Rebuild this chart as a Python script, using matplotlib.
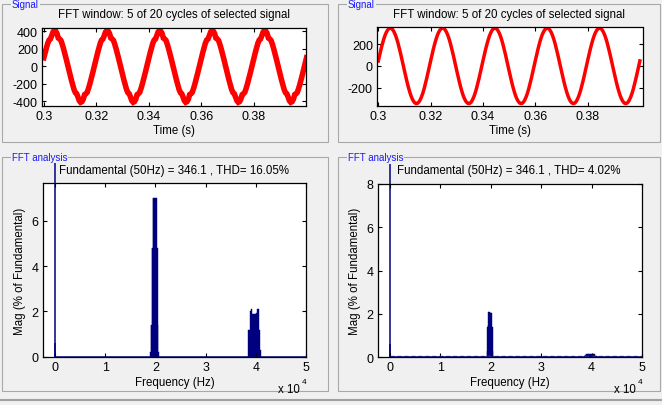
import matplotlib.pyplot as plt
import numpy as np
from matplotlib.patches import Rectangle

plt.rcParams['font.family'] = ['Liberation Sans', 'DejaVu Sans']
plt.rcParams['axes.unicode_minus'] = False

# ---- data ----
# signal window, sampled every 0.5 ms from t = 0.3 s
t_start = 0.3
t_step = 0.0005

# left: signal with high switching ripple (one row per half cycle)
sig_left = [
    98, 157, 212, 265, 300, 312, 350, 392, 410, 402, 375, 322, 312, 296, 252, 201, 145, 86, 25, -37,
    -98, -157, -212, -265, -300, -312, -350, -392, -410, -402, -375, -322, -312, -296, -252, -201, -145, -86, -25, 37,
    98, 157, 212, 265, 300, 312, 350, 392, 410, 402, 375, 322, 312, 296, 252, 201, 145, 86, 25, -37,
    -98, -157, -212, -265, -300, -312, -350, -392, -410, -402, -375, -322, -312, -296, -252, -201, -145, -86, -25, 37,
    98, 157, 212, 265, 300, 312, 350, 392, 410, 402, 375, 322, 312, 296, 252, 201, 145, 86, 25, -37,
    -98, -157, -212, -265, -300, -312, -350, -392, -410, -402, -375, -322, -312, -296, -252, -201, -145, -86, -25, 37,
    98, 157, 212, 265, 300, 312, 350, 392, 410, 402, 375, 322, 312, 296, 252, 201, 145, 86, 25, -37,
    -98, -157, -212, -265, -300, -312, -350, -392, -410, -402, -375, -322, -312, -296, -252, -201, -145, -86, -25, 37,
    98, 157, 212, 265, 300, 312, 350, 392, 410, 402, 375, 322, 312, 296, 252, 201, 145, 86, 25, -37,
    -98, -157, -212, -265, -300, -312, -350, -392, -410, -402, -375, -322, -312, -296, -252, -201, -145, -86, -25, 37,
    98,
]

# right: filtered signal, nearly sinusoidal
sig_right = [
    45, 98, 149, 196, 238, 275, 304, 326, 340, 346, 343, 332, 312, 285, 251, 211, 165, 115, 63, 9,
    -45, -98, -149, -196, -238, -275, -304, -326, -340, -346, -343, -332, -312, -285, -251, -211, -165, -115, -63, -9,
    45, 98, 149, 196, 238, 275, 304, 326, 340, 346, 343, 332, 312, 285, 251, 211, 165, 115, 63, 9,
    -45, -98, -149, -196, -238, -275, -304, -326, -340, -346, -343, -332, -312, -285, -251, -211, -165, -115, -63, -9,
    45, 98, 149, 196, 238, 275, 304, 326, 340, 346, 343, 332, 312, 285, 251, 211, 165, 115, 63, 9,
    -45, -98, -149, -196, -238, -275, -304, -326, -340, -346, -343, -332, -312, -285, -251, -211, -165, -115, -63, -9,
    45, 98, 149, 196, 238, 275, 304, 326, 340, 346, 343, 332, 312, 285, 251, 211, 165, 115, 63, 9,
    -45, -98, -149, -196, -238, -275, -304, -326, -340, -346, -343, -332, -312, -285, -251, -211, -165, -115, -63, -9,
    45, 98, 149, 196, 238, 275, 304, 326, 340, 346, 343, 332, 312, 285, 251, 211, 165, 115, 63, 9,
    -45, -98, -149, -196, -238, -275, -304, -326, -340, -346, -343, -332, -312, -285, -251, -211, -165, -115, -63, -9,
    45,
]

# FFT: DC + fundamental (% of fundamental)
fund_freq = [0, 50]
fund_mag_left = [0.6, 100]
fund_mag_right = [0.6, 100]

# left spectrum clusters (Hz, %)
left_c1_freq = [19000, 19100, 19200, 19300, 19400, 19500, 19600, 19700, 19800, 19900,
                20000, 20100, 20200, 20300, 20400, 20500, 20600]
left_c1_mag = [0.2, 1.4, 1.4, 4.8, 4.8, 7.0, 7.0, 7.0, 7.0, 7.0,
               7.0, 7.0, 7.0, 4.8, 4.8, 1.4, 0.2]
left_c2_freq = [38600, 38800, 39000, 39200, 39400, 39600, 39800, 40000, 40200, 40400,
                40600, 40800, 41000]
left_c2_mag = [1.2, 1.2, 2.0, 2.1, 1.9, 1.9, 1.9, 1.9, 1.95, 2.1, 2.1, 1.2, 0.3]

# right spectrum clusters
right_c1_freq = [19200, 19300, 19400, 19500, 19600, 19700, 19800, 19900, 20000, 20100,
                 20200, 20300, 20400]
right_c1_mag = [0.3, 1.4, 1.5, 2.1, 2.1, 2.1, 2.1, 2.05, 2.05, 2.05, 1.4, 1.4, 0.3]
right_c2_freq = [38600, 38800, 39000, 39200, 39400, 39600, 39800, 40000, 40200, 40400,
                 40600, 40800, 41000]
right_c2_mag = [0.05, 0.1, 0.15, 0.15, 0.15, 0.15, 0.15, 0.15, 0.15, 0.15, 0.15, 0.05, 0.05]
right_floor = 0.08

thd_left = 'Fundamental (50Hz) = 346.1 , THD= 16.05%'
thd_right = 'Fundamental (50Hz) = 346.1 , THD= 4.02%'
win_title = 'FFT window: 5 of 20 cycles of selected signal'

# ---- layout helpers (pixels of the 662x406 screenshot) ----
W, H = 662, 406
BG = '#f0f0f0'
NAVY = '#00007f'
FS = 8.3
TFS = 9


def fx(px):
    return px / W


def fy(py):
    return 1 - py / H


def make_axes(fig, left, top, right, bottom):
    ax = fig.add_axes([fx(left), fy(bottom), (right - left) / W, (bottom - top) / H])
    ax.tick_params(direction='in', top=True, right=True, length=3, width=0.8,
                   labelsize=TFS, pad=3)
    for s in ax.spines.values():
        s.set_linewidth(0.9)
    return ax


def group_box(fig, left, top, right, bottom, label, lab_x):
    fig.patches.append(Rectangle((fx(left), fy(bottom)), (right - left) / W, (bottom - top) / H,
                                 transform=fig.transFigure, fill=False,
                                 edgecolor='#a8a8a8', linewidth=0.8))
    fig.text(fx(lab_x), fy(top), label, fontsize=7, color='#1a1aff', va='center', ha='left',
             bbox=dict(facecolor=BG, edgecolor='none', pad=0.5))


fig = plt.figure(figsize=(W / 100, H / 100), dpi=100, facecolor=BG)

group_box(fig, 2, 5, 328, 143, 'Signal', 12)
group_box(fig, 338, 5, 660, 143, 'Signal', 348)
group_box(fig, 2, 158, 328, 392, 'FFT analysis', 12)
group_box(fig, 338, 158, 660, 392, 'FFT analysis', 348)
fig.lines.append(plt.Line2D([0, 1], [fy(401), fy(401)], transform=fig.transFigure,
                            color='#a0a0a0', linewidth=1.5))

# ---- signal plots ----
time_left = t_start + t_step * np.arange(len(sig_left))
time_right = t_start + t_step * np.arange(len(sig_right))
sig_ticks = [0.3, 0.32, 0.34, 0.36, 0.38]
sig_labels = ['0.3', '0.32', '0.34', '0.36', '0.38']

ax1 = make_axes(fig, 42, 29, 306, 107)
ax1.plot(time_left, sig_left, color='red', linewidth=4, solid_joinstyle='miter')
ax1.set_xlim(0.2993, 0.3998)
ax1.set_ylim(-452, 437)
ax1.set_xticks(sig_ticks, sig_labels)
ax1.set_yticks([-400, -200, 0, 200, 400])
ax1.set_xlabel('Time (s)', fontsize=FS, labelpad=1)
fig.text(fx(174), fy(15), win_title, fontsize=FS, ha='center', va='center')

ax2 = make_axes(fig, 377, 28, 642.5, 107)
ax2.plot(time_right, sig_right, color='red', linewidth=2.5)
ax2.set_xlim(0.2995, 0.401)
ax2.set_ylim(-368, 356)
ax2.set_xticks(sig_ticks, sig_labels)
ax2.set_yticks([-200, 0, 200])
ax2.set_xlabel('Time (s)', fontsize=FS, labelpad=1)
fig.text(fx(509), fy(15), win_title, fontsize=FS, ha='center', va='center')


# ---- FFT plots ----
def fft_axes(ax, fund_mag, clusters, ymax, yticks, title_x, title):
    clip = Rectangle((0, 0), 1, 1.115, transform=ax.transAxes)
    bars = ax.bar(fund_freq, fund_mag, width=50, color=NAVY, edgecolor=NAVY, linewidth=1.1)
    for b in bars:
        b.set_clip_path(clip)
    for f, m in clusters:
        step = f[1] - f[0]
        ax.bar(f, m, width=step, color=NAVY, edgecolor=NAVY, linewidth=0.3)
    ax.plot([0, 50000], [0, 0], color=NAVY, linewidth=1.8)
    ax.set_xlim(-2450, 50000)
    ax.set_ylim(0, ymax)
    ax.set_xticks([0, 10000, 20000, 30000, 40000, 50000], ['0', '1', '2', '3', '4', '5'])
    ax.set_yticks(yticks)
    ax.set_xlabel('Frequency (Hz)', fontsize=FS, labelpad=2)
    ax.set_ylabel('Mag (% of Fundamental)', fontsize=FS, labelpad=4)
    fig.text(fx(title_x), fy(171), title, fontsize=FS, ha='center', va='center')


ax3 = make_axes(fig, 42.7, 184.3, 306, 357.7)
fft_axes(ax3, fund_mag_left, [(left_c1_freq, left_c1_mag), (left_c2_freq, left_c2_mag)],
         7.65, [0, 2, 4, 6], 174, thd_left)
fig.text(fx(278), fy(390), 'x 10', fontsize=FS, ha='left', va='center')
fig.text(fx(302), fy(383), '4', fontsize=6, ha='left', va='center')

ax4 = make_axes(fig, 377.7, 185, 642, 358.3)
ax4.axhline(right_floor, xmin=0.047, xmax=1, color='#7070c0', linewidth=1, dashes=(3, 2))
fft_axes(ax4, fund_mag_right, [(right_c1_freq, right_c1_mag), (right_c2_freq, right_c2_mag)],
         8, [0, 2, 4, 6, 8], 509, thd_right)
fig.text(fx(614), fy(390), 'x 10', fontsize=FS, ha='left', va='center')
fig.text(fx(638), fy(383), '4', fontsize=6, ha='left', va='center')

fig.savefig('out.png', dpi=100, facecolor=BG)
